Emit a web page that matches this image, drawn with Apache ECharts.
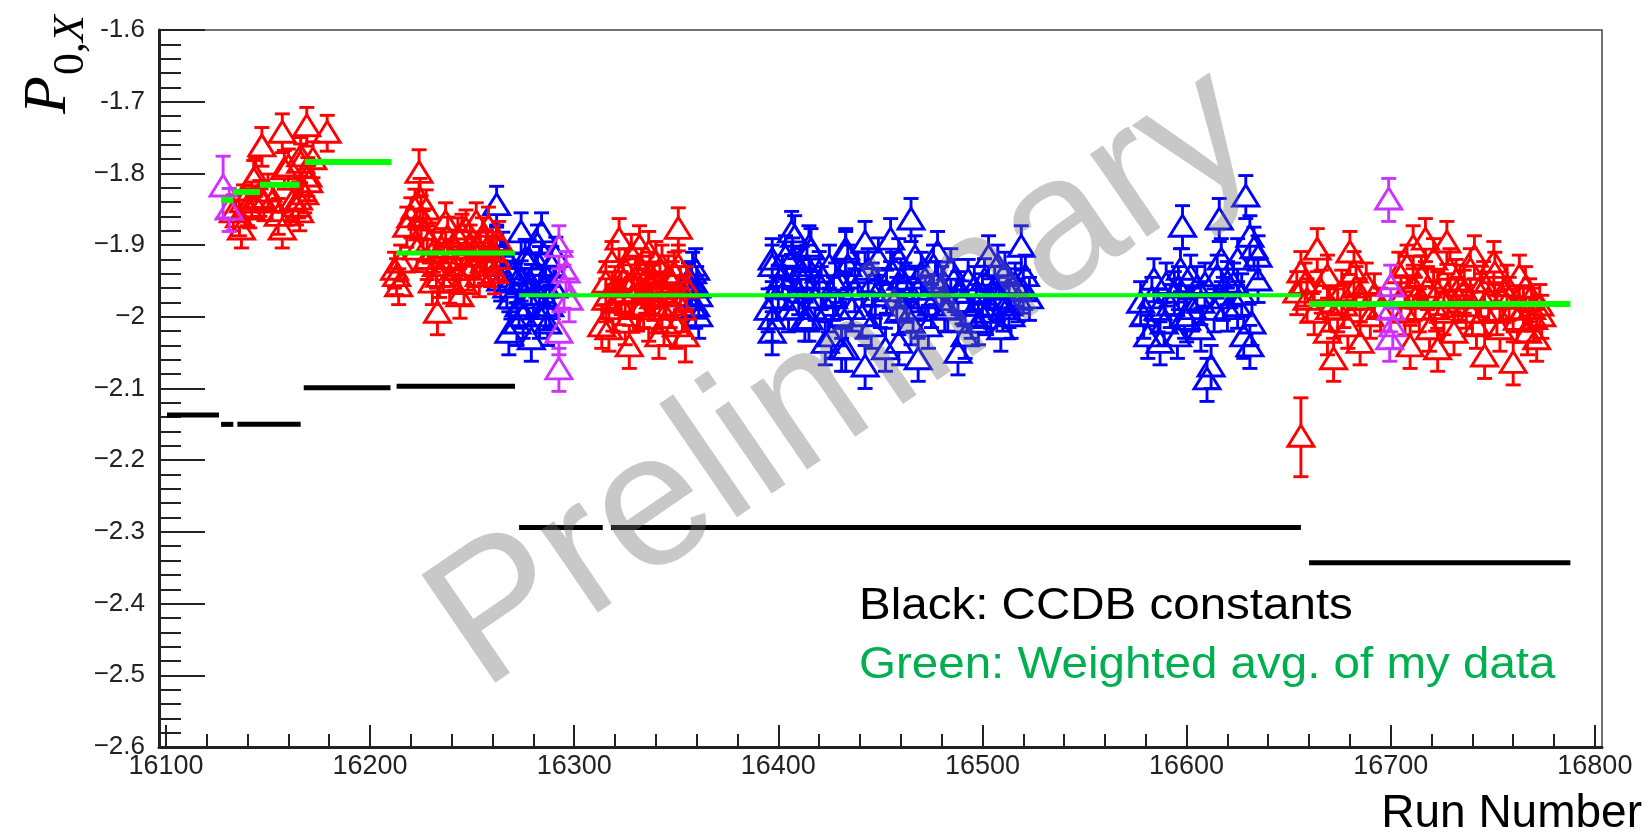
<!DOCTYPE html>
<html>
<head>
<meta charset="utf-8">
<script src="https://cdn.jsdelivr.net/npm/echarts@6/dist/echarts.min.js"></script>
<style>
html,body{margin:0;padding:0;background:#fff;}
#chart{width:1648px;height:834px;}
</style>
</head>
<body>
<div id="chart"></div>
<script>
// ---------------- DATA ----------------
// axis tick labels
const xTickValues = [16100,16200,16300,16400,16500,16600,16700,16800];
const xTickLabels = ['16100','16200','16300','16400','16500','16600','16700','16800'];
const yTickValues = [-1.6,-1.7,-1.8,-1.9,-2.0,-2.1,-2.2,-2.3,-2.4,-2.5,-2.6];
const yTickLabels = ['-1.6','-1.7','\u22121.8','\u22121.9','\u22122','\u22122.1','\u22122.2','\u22122.3','\u22122.4','\u22122.5','\u22122.6'];

// points: [run, P0X, error]
const redGroup1 = [
[16133,-1.855,0.025],[16136,-1.862,0.025],[16137,-1.879,0.025],[16138,-1.841,0.025],[16140,-1.848,0.025],
[16141,-1.851,0.025],[16142,-1.837,0.025],[16143,-1.809,0.027],[16144,-1.805,0.027],[16146,-1.835,0.025],
[16147,-1.763,0.027],[16148,-1.841,0.025],[16150,-1.826,0.025],[16152,-1.841,0.025],[16155,-1.860,0.025],
[16157,-1.744,0.027],[16157,-1.879,0.025],[16158,-1.795,0.027],[16160,-1.791,0.025],[16162,-1.840,0.025],
[16164,-1.847,0.025],[16165,-1.837,0.025],[16165.5,-1.855,0.025],[16166,-1.777,0.027],[16166,-1.786,0.027],
[16168,-1.830,0.025],[16169,-1.735,0.027],[16169.5,-1.805,0.027],[16170,-1.813,0.025],[16172,-1.781,0.025],
[16179,-1.744,0.025]
];
const redGroup2 = [
[16212,-1.935,0.025],[16213,-1.944,0.025],[16214,-1.958,0.025],[16215,-1.925,0.025],[16218,-1.875,0.028],
[16220,-1.862,0.028],[16222,-1.850,0.028],[16224,-1.800,0.033],[16224.5,-1.837,0.030],[16225,-1.861,0.030],
[16223,-1.907,0.030],[16226,-1.880,0.028],[16227.5,-1.851,0.028],[16229,-1.897,0.028],[16230.5,-1.953,0.030],
[16231,-1.910,0.028],[16232.5,-1.930,0.030],[16233,-1.995,0.030],[16235,-1.905,0.028],[16236,-1.930,0.028],
[16237,-1.869,0.028],[16238,-1.889,0.028],[16239,-1.953,0.028],[16240,-1.920,0.028],[16242,-1.907,0.028],
[16244,-1.972,0.030],[16245,-1.885,0.028],[16246,-1.955,0.028],[16247,-1.879,0.028],[16248,-1.935,0.028],
[16249,-1.900,0.028],[16250,-1.917,0.028],[16252,-1.869,0.028],[16253.5,-1.944,0.028],[16255,-1.890,0.028],
[16256,-1.925,0.028],[16257,-1.907,0.028],[16258,-1.875,0.028],[16260,-1.910,0.028],[16261,-1.940,0.028],
[16263,-1.895,0.028],[16228,-1.920,0.028],[16234,-1.945,0.028],[16241,-1.935,0.028],[16243,-1.890,0.028],
[16251,-1.930,0.028],[16254,-1.910,0.028],[16259,-1.930,0.028],[16262,-1.920,0.028]
];
const redGroup3 = [
[16313.5,-2.014,0.030],[16315.5,-1.953,0.030],[16315.5,-1.977,0.030],[16317,-2.018,0.030],[16318.5,-1.925,0.030],
[16320,-1.960,0.030],[16322,-1.893,0.030],[16322,-1.981,0.030],[16323,-1.967,0.030],[16325,-1.935,0.030],
[16325,-2.009,0.030],[16327,-2.042,0.030],[16328,-1.915,0.030],[16330,-1.949,0.030],[16331,-1.990,0.030],
[16332,-1.903,0.030],[16332,-1.986,0.030],[16333,-1.935,0.030],[16335,-1.965,0.030],[16336.5,-1.911,0.030],
[16336.5,-2.004,0.030],[16338,-1.958,0.030],[16340,-1.925,0.030],[16341.5,-2.028,0.030],[16343,-1.930,0.030],
[16343,-1.991,0.030],[16345,-1.972,0.030],[16346,-1.945,0.030],[16348,-1.953,0.030],[16350,-2.014,0.030],
[16351,-1.878,0.030],[16351,-1.930,0.030],[16353,-1.991,0.030],[16354.5,-2.028,0.035],[16355,-1.960,0.030],
[16319,-1.990,0.030],[16324,-1.950,0.030],[16329,-1.970,0.030],[16334,-1.985,0.030],[16337,-1.940,0.030],
[16339,-1.975,0.030],[16342,-1.955,0.030],[16344,-2.010,0.030],[16347,-1.985,0.030],[16349,-1.940,0.030],
[16352,-1.960,0.030]
];
const redGroup4 = [
[16656,-2.168,0.055],[16664,-1.907,0.030],[16680,-1.911,0.030],[16656,-1.939,0.030],[16659,-1.977,0.030],
[16654,-1.967,0.030],[16669,-1.944,0.030],[16662.5,-1.995,0.030],[16674,-1.991,0.030],[16672,-2.060,0.030],
[16682,-1.939,0.030],[16685,-1.977,0.030],[16679,-2.014,0.030],[16685,-2.037,0.030],[16669,-2.023,0.030],
[16690,-2.000,0.030],[16676,-1.965,0.030],[16688,-1.955,0.030],[16695,-1.990,0.030],[16709.5,-2.042,0.030],
[16723,-2.046,0.030],[16711,-1.903,0.030],[16717,-1.893,0.030],[16727.5,-1.897,0.030],[16708,-1.930,0.030],
[16721,-1.921,0.030],[16729,-1.935,0.030],[16741,-1.917,0.030],[16750.5,-1.925,0.030],[16763,-1.944,0.030],
[16711,-1.958,0.030],[16723,-1.967,0.030],[16734,-1.958,0.030],[16745.5,-1.953,0.030],[16757,-1.958,0.030],
[16768,-1.977,0.030],[16714,-1.991,0.030],[16726,-1.995,0.030],[16737,-1.986,0.030],[16746,-1.995,0.030],
[16760,-1.991,0.030],[16770,-2.004,0.030],[16719,-2.018,0.030],[16731,-2.023,0.030],[16742,-2.014,0.030],
[16753.5,-2.018,0.030],[16767,-2.023,0.030],[16746,-2.056,0.030],[16760,-2.065,0.030],[16771.5,-2.032,0.030],
[16705,-1.975,0.030],[16715,-1.945,0.030],[16733,-1.975,0.030],[16748,-1.975,0.030],[16755,-1.975,0.030],
[16765,-1.990,0.030],[16773,-1.985,0.030],[16704,-1.940,0.030],[16739,-1.935,0.030],[16751,-1.940,0.030],
[16658,-1.955,0.030],[16666,-1.965,0.030],[16670,-1.990,0.030],[16677,-1.985,0.030],[16683,-1.960,0.030],
[16692,-1.970,0.030],[16707,-1.995,0.030],[16712,-1.975,0.030],[16718,-1.960,0.030],[16722,-1.990,0.030],
[16728,-1.970,0.030],[16732,-1.950,0.030],[16736,-1.965,0.030],[16740,-1.995,0.030],[16744,-1.970,0.030],
[16752,-1.995,0.030],[16758,-1.975,0.030],[16762,-2.005,0.030],[16766,-1.960,0.030],[16769,-1.990,0.030],
[16774,-2.000,0.030]
];
const blueGroup1 = [
[16262,-1.845,0.027],[16262,-1.903,0.028],[16263,-1.930,0.028],[16265,-1.910,0.028],[16267,-1.960,0.028],
[16268,-2.023,0.030],[16270,-1.940,0.028],[16271.5,-1.953,0.028],[16272,-2.010,0.030],[16273,-1.986,0.030],
[16274,-1.883,0.028],[16275,-2.000,0.030],[16276,-1.920,0.028],[16277,-1.975,0.028],[16278,-1.921,0.028],
[16279,-2.032,0.030],[16280,-1.970,0.028],[16281,-1.939,0.028],[16282,-1.900,0.028],[16283,-2.000,0.030],
[16284,-1.883,0.028],[16285,-1.960,0.028],[16286,-1.958,0.028],[16287,-2.010,0.030],[16288,-1.986,0.030],
[16289,-1.930,0.028],[16291,-1.917,0.028],[16264,-1.950,0.028],[16269,-1.975,0.028],[16274,-1.950,0.028],
[16279,-1.955,0.028],[16283,-1.930,0.028],[16286,-1.990,0.028],[16290,-1.960,0.028]
];
const blueGroup2 = [
[16354.5,-1.972,0.030],[16356,-1.955,0.030],[16357.5,-1.953,0.030],[16358,-1.940,0.030],[16359.5,-1.935,0.030],
[16359.5,-1.986,0.030],[16361,-1.972,0.030],[16361,-2.000,0.030],[16360,-1.960,0.030]
];
const blueGroup3 = [
[16395,-1.991,0.030],[16397,-1.930,0.030],[16397,-2.023,0.030],[16397,-1.921,0.030],[16397,-2.004,0.030],
[16400,-1.958,0.030],[16403.5,-1.917,0.030],[16405,-1.991,0.030],[16406.5,-1.883,0.030],[16408,-1.889,0.030],
[16410,-1.967,0.030],[16411,-1.935,0.030],[16413,-2.004,0.030],[16415,-1.903,0.030],[16415,-2.004,0.030],
[16416,-1.907,0.030],[16420,-1.939,0.030],[16423,-2.037,0.030],[16424.5,-1.991,0.030],[16426,-2.028,0.030],
[16431,-2.000,0.030],[16431,-2.046,0.030],[16433,-1.907,0.030],[16433,-2.046,0.030],[16433,-1.911,0.030],
[16434,-1.930,0.030],[16437.5,-1.963,0.030],[16442.5,-1.897,0.030],[16442.5,-2.070,0.030],[16444,-1.935,0.030],
[16445.5,-2.014,0.030],[16447.5,-1.972,0.030],[16452.5,-2.046,0.030],[16455,-1.893,0.030],[16459,-1.921,0.030],
[16459,-1.995,0.030],[16459,-2.037,0.030],[16460,-1.949,0.030],[16465,-1.865,0.030],[16465,-2.009,0.030],
[16467,-1.917,0.030],[16468.5,-1.963,0.030],[16468.5,-2.060,0.030],[16473.5,-2.014,0.030],[16477,-1.953,0.030],
[16478,-1.911,0.030],[16481.5,-1.991,0.030],[16484.5,-1.935,0.030],[16488,-1.967,0.030],[16488,-2.051,0.030],
[16491.5,-2.028,0.030],[16494.5,-2.000,0.030],[16498,-2.009,0.030],[16501,-1.949,0.030],[16503,-1.917,0.030],
[16504,-1.986,0.030],[16507.5,-1.930,0.030],[16509,-2.018,0.030],[16512.5,-1.963,0.030],[16514,-2.000,0.030],
[16517.5,-1.977,0.030],[16519,-1.903,0.030],[16521,-1.944,0.030],[16402,-1.945,0.030],[16418,-1.975,0.030],
[16428,-1.955,0.030],[16450,-1.985,0.030],[16463,-1.975,0.030],[16475,-1.985,0.030],[16496,-1.960,0.030],
[16510,-1.990,0.030],[16523,-1.975,0.030],
[16399,-1.975,0.030],[16404,-1.960,0.030],[16407,-1.920,0.030],[16409,-1.990,0.030],[16412,-1.950,0.030],
[16414,-1.930,0.030],[16417,-1.990,0.030],[16421,-1.960,0.030],[16425,-1.930,0.030],[16427,-1.975,0.030],
[16430,-1.950,0.030],[16436,-1.990,0.030],[16439,-1.940,0.030],[16441,-2.000,0.030],[16446,-1.955,0.030],
[16449,-1.920,0.030],[16453,-1.965,0.030],[16456,-1.940,0.030],[16458,-1.975,0.030],[16462,-1.955,0.030],
[16466,-1.990,0.030],[16470,-1.940,0.030],[16472,-1.975,0.030],[16476,-1.930,0.030],[16480,-1.960,0.030],
[16483,-1.990,0.030],[16486,-1.950,0.030],[16490,-1.980,0.030],[16493,-1.950,0.030],[16497,-1.985,0.030],
[16500,-1.970,0.030],[16502,-1.995,0.030],[16506,-1.960,0.030],[16508,-1.975,0.030],[16511,-1.940,0.030],
[16513,-1.985,0.030],[16516,-1.955,0.030],[16520,-1.965,0.030]
];
const blueGroup4 = [
[16577.5,-1.981,0.030],[16581,-2.028,0.030],[16584,-1.949,0.030],[16586,-1.991,0.030],[16587,-2.037,0.030],
[16590,-1.955,0.030],[16594,-1.967,0.030],[16595.5,-2.028,0.030],[16597,-1.935,0.030],[16598,-1.875,0.030],
[16599,-2.000,0.030],[16600,-2.005,0.030],[16602,-1.944,0.030],[16605,-1.960,0.030],[16607,-1.981,0.030],
[16607,-2.018,0.030],[16610,-2.088,0.030],[16612,-2.070,0.030],[16613.5,-1.991,0.030],[16615,-1.944,0.030],
[16616,-1.865,0.030],[16617,-1.921,0.030],[16620,-1.953,0.030],[16620,-1.990,0.030],[16625,-1.986,0.030],
[16625,-1.921,0.030],[16628,-2.028,0.030],[16629,-1.833,0.030],[16631,-1.889,0.030],[16631,-2.042,0.030],
[16633,-1.905,0.030],[16635,-1.917,0.030],[16635,-1.950,0.030],
[16579,-2.000,0.030],[16583,-1.975,0.030],[16589,-2.010,0.030],[16592,-1.985,0.030],[16596,-1.960,0.030],
[16603,-1.990,0.030],[16609,-1.955,0.030],[16618,-1.975,0.030],[16623,-1.955,0.030],[16627,-1.970,0.030],
[16632,-2.010,0.030]
];
const magentaPoints = [
[16128,-1.819,0.043],[16131,-1.851,0.030],[16292.5,-1.903,0.030],[16296,-1.939,0.030],[16295,-1.958,0.030],
[16297.5,-1.977,0.030],[16292.5,-2.023,0.030],[16292.5,-2.074,0.030],[16699,-1.837,0.030],[16700,-1.958,0.030],
[16700,-1.991,0.030],[16701,-2.014,0.030],[16699.5,-2.032,0.030]
];

// horizontal segments: [runStart, runEnd, value]
const ccdbSegments = [
[16100.5,16126,-2.137],[16127,16133,-2.150],[16135,16166,-2.150],[16167.5,16210,-2.099],
[16213,16271,-2.097],[16273,16314,-2.294],[16318,16656,-2.294],[16660,16788,-2.343]
];
const avgSegments = [
[16127,16133,-1.837],[16133,16146,-1.826],[16146,16165.5,-1.816],[16168,16210.5,-1.784],
[16213,16271,-1.911],[16273,16656,-1.970],[16660,16788,-1.982]
];

// ---------------- STYLE ----------------
const avgWidths = [6,6,6,6,5,4,6];
const ccdbWidths = [5,5,5,5,5,5,5,5];
const RED = '#ff0000', BLUE = '#0000ff', MAG = '#cc33ff';

const xMinor = [];
for (let v = 16100; v <= 16800; v += 20) if (v % 100 !== 0) xMinor.push(v);
const yMinor = [];
for (let i = 0; i <= 50; i++) { if (i % 5 !== 0) yMinor.push(+(-2.6 + i * 0.02).toFixed(2)); }

function pointRender(color) {
  return function (params, api) {
    const x = api.value(0), y = api.value(1), e = api.value(2);
    const c = api.coord([x, y]);
    const top = api.coord([x, y + e])[1];
    const bot = api.coord([x, y - e])[1];
    const cap = 7.5, hw = 13, up = 12, dn = 9;
    const st = { stroke: color, lineWidth: 2.9, fill: null };
    return {
      type: 'group',
      children: [
        { type: 'line', shape: { x1: c[0], y1: top, x2: c[0], y2: c[1] - up }, style: st },
        { type: 'line', shape: { x1: c[0], y1: c[1] + dn, x2: c[0], y2: bot }, style: st },
        { type: 'line', shape: { x1: c[0] - cap, y1: top, x2: c[0] + cap, y2: top }, style: st },
        { type: 'line', shape: { x1: c[0] - cap, y1: bot, x2: c[0] + cap, y2: bot }, style: st },
        { type: 'polygon', shape: { points: [[c[0], c[1] - up], [c[0] + hw, c[1] + dn], [c[0] - hw, c[1] + dn]] }, style: st }
      ]
    };
  };
}
function segRender(color, widths) {
  return function (params, api) {
    const a = api.coord([api.value(0), api.value(2)]);
    const b = api.coord([api.value(1), api.value(2)]);
    return { type: 'line', shape: { x1: a[0], y1: a[1], x2: b[0], y2: b[1] },
      style: { stroke: color, lineWidth: widths[params.dataIndex] } };
  };
}
function pointSeries(data, color) {
  return { type: 'custom', xAxisIndex: 0, yAxisIndex: 0, renderItem: pointRender(color),
    encode: { x: 0, y: 1 }, data: data, silent: true, animation: false };
}

const chart = echarts.init(document.getElementById('chart'), null, { renderer: 'canvas' });
const labelFont = 'Liberation Sans';
chart.setOption({
  animation: false,
  backgroundColor: '#ffffff',
  grid: { left: 159, top: 30, right: 46, bottom: 87, show: true, borderColor: '#444', borderWidth: 1.5 },
  xAxis: [
    { type: 'value', min: 16096.6, max: 16803.5, position: 'bottom',
      axisLine: { show: true, onZero: false, lineStyle: { color: '#222', width: 3 } },
      axisTick: { show: true, inside: true, length: 22, customValues: xTickValues, lineStyle: { color: '#222', width: 2 } },
      axisLabel: { show: true, customValues: xTickValues, margin: 6, color: '#222', fontSize: 27, fontFamily: labelFont,
        formatter: v => xTickLabels[xTickValues.indexOf(v)] },
      splitLine: { show: false } },
    { type: 'value', min: 16096.6, max: 16803.5, position: 'bottom',
      axisLine: { show: false },
      axisTick: { show: true, inside: true, length: 13, customValues: xMinor, lineStyle: { color: '#222', width: 2 } },
      axisLabel: { show: false }, splitLine: { show: false } }
  ],
  yAxis: [
    { type: 'value', min: -2.6, max: -1.6, position: 'left',
      axisLine: { show: true, onZero: false, lineStyle: { color: '#222', width: 3 } },
      axisTick: { show: true, inside: true, length: 46, customValues: yTickValues, lineStyle: { color: '#222', width: 2 } },
      axisLabel: { show: true, customValues: yTickValues, margin: 14, color: '#222', fontSize: 26, fontFamily: labelFont,
        formatter: v => { const i = yTickValues.findIndex(t => Math.abs(t - v) < 1e-6); return i >= 0 ? yTickLabels[i] : ''; } },
      splitLine: { show: false } },
    { type: 'value', min: -2.6, max: -1.6, position: 'left',
      axisLine: { show: false },
      axisTick: { show: true, inside: true, length: 22, customValues: yMinor, lineStyle: { color: '#222', width: 2 } },
      axisLabel: { show: false }, splitLine: { show: false } }
  ],
  series: [
    pointSeries(blueGroup1, BLUE),
    pointSeries(blueGroup2, BLUE),
    pointSeries(blueGroup3, BLUE),
    pointSeries(blueGroup4, BLUE),
    pointSeries(redGroup1, RED),
    pointSeries(redGroup2, RED),
    pointSeries(redGroup3, RED),
    pointSeries(redGroup4, RED),
    pointSeries(magentaPoints, MAG),
    { type: 'custom', xAxisIndex: 0, yAxisIndex: 0, renderItem: segRender('#000000', ccdbWidths),
      encode: { x: [0, 1], y: 2 }, data: ccdbSegments, silent: true },
    { type: 'custom', xAxisIndex: 0, yAxisIndex: 0, renderItem: segRender('#00ff00', avgWidths),
      encode: { x: [0, 1], y: 2 }, data: avgSegments, silent: true }
  ],
  graphic: [
    { type: 'text', x: 49, y: 95, rotation: Math.PI / 2, z: 10,
      style: { text: 'P', font: 'italic 62px "Liberation Serif"', fill: '#000', textAlign: 'center', textVerticalAlign: 'middle' } },
    { type: 'text', x: 71, y: 45, rotation: Math.PI / 2, z: 10,
      style: { text: '{a|0,}{b|X}', fill: '#000', textAlign: 'center', textVerticalAlign: 'middle',
        rich: { a: { font: '44px "Liberation Serif"', fill: '#000' }, b: { font: 'italic 44px "Liberation Serif"', fill: '#000' } } } },
    { type: 'text', x: 1642, y: 814, z: 10,
      style: { text: 'Run Number', font: '46px "Liberation Sans"', fill: '#000', textAlign: 'right', textVerticalAlign: 'middle' } },
    { type: 'text', x: 859, y: 607, z: 10, scaleX: 1.08,
      style: { text: 'Black: CCDB constants', font: '44px "Liberation Sans"', fill: '#000', textAlign: 'left', textVerticalAlign: 'middle' } },
    { type: 'text', x: 859, y: 666, z: 10, scaleX: 1.08,
      style: { text: 'Green: Weighted avg. of my data', font: '44px "Liberation Sans"', fill: '#00b050', textAlign: 'left', textVerticalAlign: 'middle' } },
    { type: 'text', x: 845, y: 380, rotation: 0.6, z: 100,
      style: { text: 'Preliminary', font: '190px "Liberation Sans"', fill: 'rgba(110,110,110,0.38)', textAlign: 'center', textVerticalAlign: 'middle' } }
  ]
});
</script>
</body>
</html>
